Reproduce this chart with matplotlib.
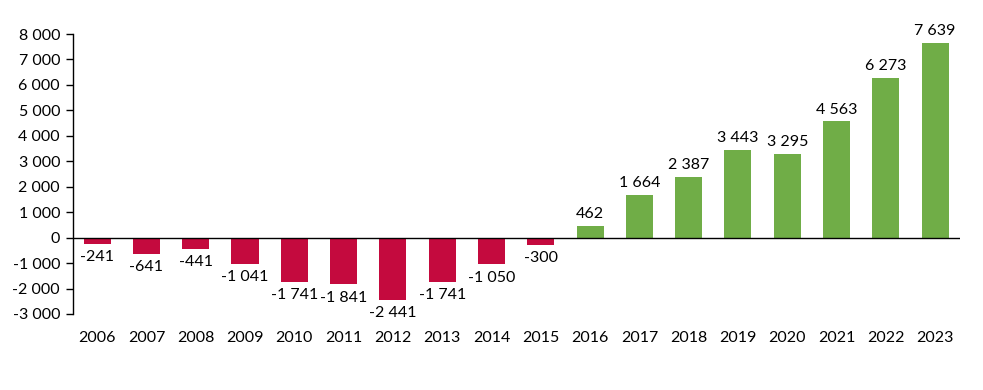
import matplotlib
matplotlib.use("Agg")
import matplotlib.pyplot as plt
import numpy as np
from matplotlib.ticker import FuncFormatter

plt.rcParams['font.family'] = ['Lato', 'DejaVu Sans']

years = [str(y) for y in range(2006, 2024)]
values = [-241, -641, -441, -1041, -1741, -1841, -2441, -1741, -1050, -300,
          462, 1664, 2387, 3443, 3295, 4563, 6273, 7639]

red = '#C40A3E'
green = '#70AD47'

def fmt(v):
    # space as thousands separator
    return f"{v:,.0f}".replace(",", " ")

fig = plt.figure(figsize=(9.83, 3.9), dpi=100)
ax = fig.add_axes([0.0738, 0.195, 0.9025, 0.7178])

x = np.arange(len(years))
colors = [red if v < 0 else green for v in values]
ax.bar(x, values, width=0.55, color=colors, zorder=2)

# value labels
for xi, v in zip(x, values):
    if v < 0:
        ax.annotate(fmt(v), (xi, v), xytext=(0, -4.5), textcoords='offset points',
                    ha='center', va='top', fontsize=11.5)
    else:
        ax.annotate(fmt(v), (xi, v), xytext=(0, 3.5), textcoords='offset points',
                    ha='center', va='bottom', fontsize=11.5)

ax.set_xlim(-0.5, len(years) - 0.5)
ax.set_ylim(-3000, 8000)
ax.set_yticks(np.arange(-3000, 8001, 1000))
ax.yaxis.set_major_formatter(FuncFormatter(lambda v, p: fmt(v)))

ax.set_xticks(x)
ax.set_xticklabels(years)
ax.tick_params(axis='x', length=0, pad=12, labelsize=11.5)
ax.tick_params(axis='y', length=5, width=1, labelsize=11.5, pad=4)

ax.axhline(0, color='black', linewidth=1, zorder=3)
for s in ['top', 'right', 'bottom']:
    ax.spines[s].set_visible(False)
ax.spines['left'].set_linewidth(1)

fig.savefig("out.png", dpi=100)
